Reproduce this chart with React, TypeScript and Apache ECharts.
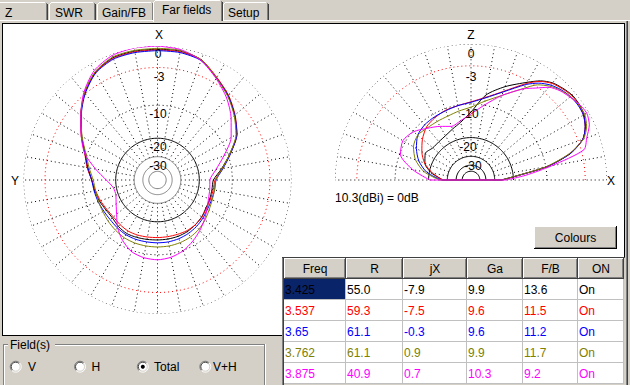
import React, { useEffect, useRef } from 'react';
import * as echarts from 'echarts';

// ---------- table data ----------
const FREQ = ['3.425', '3.537', '3.65', '3.762', '3.875'];
const RES = ['55.0', '59.3', '61.1', '61.1', '40.9'];
const JX = ['-7.9', '-7.5', '-0.3', '0.9', '0.7'];
const GA = ['9.9', '9.6', '9.6', '9.9', '10.3'];
const FB = ['13.6', '11.5', '11.2', '11.7', '9.2'];
const ON = ['On', 'On', 'On', 'On', 'On'];
const HEADERS = ['Freq', 'R', 'jX', 'Ga', 'F/B', 'ON'];
const SERIES_COLORS = ['#000000', '#ff0000', '#0000ff', '#808000', '#ff00ff'];
const TABS = ['Z', 'SWR', 'Gain/FB', 'Far fields', 'Setup'];
const FIELDS = ['V', 'H', 'Total', 'V+H'];
const RING_LABELS = ['0', '-3', '-10', '-20', '-30'];
const RING_DB = [0, -3, -10, -20, -30];
const INNER_RING_DB = [-38, -47];
const GAIN_NOTE = '10.3(dBi) = 0dB';

// ---------- azimuth patterns (dB, 0 = X, counter-clockwise towards Y) ----------
const AZ_ANGLES = [0, 10, 20, 30, 40, 50, 60, 70, 80, 90, 100, 110, 120, 130, 140, 150, 160, 170,
  180, 190, 200, 210, 220, 230, 240, 250, 260, 270, 280, 290, 300, 310, 320, 330, 340, 350];
const AZ_3425 = [-0.4, -0.4, -0.5, -1.3, -2.9, -5.0, -7.3, -9.5, -10.9, -12.2, -12.8, -13.3, -13.9, -14.1, -13.6, -13.3, -13.5, -13.7,
  -13.8, -13.8, -13.8, -13.9, -14.2, -14.5, -15.0, -15.1, -15.2, -15.0, -12.4, -9.5, -6.6, -4.9, -3.4, -2.2, -0.8, -0.4];
const AZ_3537 = [-0.5, -0.5, -0.6, -1.3, -2.9, -5.0, -7.2, -9.4, -10.8, -12.2, -13.0, -13.6, -14.2, -14.5, -14.3, -14.1, -14.2, -14.4,
  -14.5, -14.5, -14.4, -14.2, -14.2, -14.4, -14.8, -14.9, -14.8, -14.5, -12.2, -9.4, -6.5, -4.8, -3.3, -2.1, -0.8, -0.5];
const AZ_3650 = [-0.6, -0.6, -0.7, -1.4, -3.0, -5.1, -7.3, -9.5, -11.0, -12.2, -12.6, -12.9, -13.2, -13.3, -13.1, -12.9, -12.9, -13.0,
  -13.0, -13.0, -13.1, -13.3, -13.6, -14.0, -14.4, -14.5, -14.4, -14.2, -12.0, -9.3, -6.5, -4.9, -3.4, -2.2, -0.9, -0.6];
const AZ_3762 = [-0.3, -0.3, -0.4, -1.2, -2.8, -5.0, -7.4, -9.7, -11.3, -12.6, -13.0, -13.0, -12.9, -12.6, -12.3, -12.0, -11.9, -11.9,
  -11.9, -11.9, -12.0, -12.2, -12.6, -13.2, -13.9, -14.3, -14.4, -14.3, -12.2, -9.5, -6.7, -5.0, -3.5, -2.2, -0.8, -0.3];
const AZ_3875 = [0.0, 0.0, -0.2, -1.0, -2.7, -5.0, -7.2, -9.4, -13.0, -16.5, -18.8, -19.0, -17.7, -15.8, -13.2, -11.2, -9.7, -9.1,
  -8.9, -9.2, -9.9, -11.0, -12.2, -13.4, -14.6, -15.5, -15.9, -16.1, -14.0, -11.0, -7.8, -5.7, -3.8, -2.3, -0.9, -0.2];

// ---------- elevation patterns (dB, 0 = X horizon, 90 = Z) ----------
const EL_ANGLES = [0, 5, 10, 15, 20, 25, 30, 35, 40, 45, 50, 55, 60, 70, 80, 90, 100, 110, 120, 130, 140, 150, 160, 170, 180];
const EL_3425 = [-25.9, -19.0, -9.8, -4.8, -2.3, -1.3, -0.7, -0.5, -0.5, -0.8, -1.2, -2.0, -3.2, -5.4, -7.8, -11.9, -14.4, -15.8, -16.8, -17.2, -17.2, -16.2, -17.5, -21.0, -27.1];
const EL_3537 = [-25.5, -18.8, -9.7, -4.8, -2.3, -1.3, -0.8, -0.6, -0.6, -0.9, -1.3, -2.1, -3.4, -6.3, -8.3, -9.5, -10.1, -10.4, -10.9, -11.6, -13.1, -15.0, -17.4, -21.5, -27.0];
const EL_3650 = [-25.5, -18.8, -9.6, -4.7, -2.3, -1.3, -0.8, -0.7, -0.8, -1.1, -1.6, -2.4, -3.6, -6.4, -8.4, -9.6, -10.1, -10.5, -10.7, -10.9, -11.5, -13.2, -15.4, -19.0, -26.0];
const EL_3762 = [-25.5, -19.0, -9.9, -5.0, -2.2, -1.1, -0.6, -0.6, -0.8, -1.2, -1.8, -2.7, -4.3, -7.1, -9.1, -10.7, -11.4, -11.9, -12.0, -11.9, -11.5, -12.3, -14.3, -18.0, -25.0];
const EL_3875 = [-23.3, -15.5, -8.7, -2.6, -1.7, -0.7, -0.3, -0.5, -0.9, -1.3, -2.0, -3.3, -4.4, -7.1, -10.0, -12.4, -14.0, -14.9, -13.5, -12.0, -10.2, -9.4, -10.2, -14.3, -20.5];

const AZ_SETS = [AZ_3425, AZ_3537, AZ_3650, AZ_3762, AZ_3875];
const EL_SETS = [EL_3425, EL_3537, EL_3650, EL_3762, EL_3875];

const BG = '#d4d0c8';
const FONT = '"Liberation Sans", Arial, sans-serif';

// ARRL log-periodic radial scale
const arrl = (db: number) => Math.pow(0.89, -db / 2);

function lineSeries(polarIndex: number, data: any[], color: string, type: any, z: number, smooth: any = false) {
  return {
    type: 'line', coordinateSystem: 'polar', polarIndex, data,
    symbol: 'none', showSymbol: false, silent: true, clip: false, smooth,
    lineStyle: { color, width: 1, type }, z, animation: false,
  };
}

function buildSeries() {
  const s: any[] = [];
  const plots = [
    { idx: 0, from: 0, to: 360, inner: '#808080' },
    { idx: 1, from: 0, to: 180, inner: '#000000' },
  ];
  plots.forEach((p) => {
    // spokes
    for (let a = p.from; a <= (p.to === 360 ? 350 : 180); a += 10) {
      s.push(lineSeries(p.idx, [[arrl(-30), a], [1, a]], '#000', [1, 3], 1));
    }
    // rings
    RING_DB.forEach((db) => {
      const d: any[] = [];
      for (let a = p.from; a <= p.to; a += 2) d.push([arrl(db), a]);
      const color = db === -3 ? '#ff0000' : db === -30 ? p.inner : '#000';
      const type = db === -20 || db === -30 ? 'solid' : [1, 3];
      s.push(lineSeries(p.idx, d, color, type, 1));
    });
    INNER_RING_DB.forEach((db) => {
      const d: any[] = [];
      for (let a = p.from; a <= p.to; a += 4) d.push([arrl(db), a]);
      s.push(lineSeries(p.idx, d, p.inner, 'solid', 1));
    });
  });
  AZ_SETS.forEach((vals, i) => {
    const d = AZ_ANGLES.map((a, k) => [arrl(vals[k]), a]);
    d.push([arrl(vals[0]), 360]);
    s.push(lineSeries(0, d, SERIES_COLORS[i], 'solid', 3 + i, 0.25));
  });
  EL_SETS.forEach((vals, i) => {
    const d = EL_ANGLES.map((a, k) => [arrl(vals[k]), a]);
    s.push(lineSeries(1, d, SERIES_COLORS[i], 'solid', 3 + i, 0.25));
    // closing segment along the ground
    s.push(lineSeries(1, [d[d.length - 1], d[0]], SERIES_COLORS[i], 'solid', 3 + i));
  });
  return s;
}

function buildGraphics() {
  const g: any[] = [];
  const line = (x1: number, y1: number, x2: number, y2: number, stroke: string, z = 20) =>
    g.push({ type: 'line', silent: true, z, shape: { x1, y1, x2, y2 }, style: { stroke, lineWidth: 1 } });
  const rect = (x: number, y: number, w: number, h: number, fill: string, z = 20) =>
    g.push({ type: 'rect', silent: true, z, shape: { x, y, width: w, height: h }, style: { fill } });
  const text = (t: string, x: number, y: number, color = '#000', align = 'left', z = 30, size = 12) =>
    g.push({
      type: 'text', silent: true, z, x, y,
      style: {
        text: t, fill: color, fontSize: size, fontFamily: FONT,
        align, verticalAlign: 'middle', textAlign: align, textVerticalAlign: 'middle',
      },
    });

  // white drawing panel
  rect(3, 24, 621, 312, '#ffffff', 0);
  line(2, 23.5, 625, 23.5, '#000', 0);
  line(2.5, 23, 2.5, 336, '#000', 0);
  line(2, 335.5, 625, 335.5, '#000', 0);
  line(624.5, 23, 624.5, 336, '#000', 0);
  line(626.5, 21, 626.5, 385, '#808080', 0);
  line(627.5, 21, 627.5, 385, '#404040', 0);

  // tab strip
  line(0, 20.5, 630, 20.5, '#ffffff', 5);
  const tabs = [
    { x0: -4, x1: 47, tx: 5 },
    { x0: 49, x1: 95, tx: 55 },
    { x0: 97, x1: 153, tx: 102 },
    { x0: 153, x1: 222, tx: 162, sel: true },
    { x0: 223, x1: 268, tx: 228 },
  ];
  tabs.forEach((t, i) => {
    if (t.sel) return;
    line(t.x0 + 0.5, 4, t.x0 + 0.5, 20, '#ffffff', 6);
    line(t.x0 + 2, 2.5, t.x1 - 2, 2.5, '#ffffff', 6);
    rect(t.x0 + 1, 3, 1, 1, '#ffffff', 6);
    line(t.x1 - 0.5, 3, t.x1 - 0.5, 20, '#808080', 6);
    line(t.x1 + 0.5, 4, t.x1 + 0.5, 20, '#404040', 6);
    text(TABS[i], t.tx, 12.5, '#000', 'left', 7);
  });
  const st = tabs[3];
  rect(st.x0, 0, st.x1 - st.x0 + 1, 23, BG, 8);
  line(st.x0 + 0.5, 2, st.x0 + 0.5, 22, '#ffffff', 8);
  line(st.x0 + 2, 0.5, st.x1 - 2, 0.5, '#ffffff', 8);
  rect(st.x0 + 1, 1, 1, 1, '#ffffff', 8);
  line(st.x1 - 0.5, 1, st.x1 - 0.5, 21, '#808080', 8);
  line(st.x1 + 0.5, 2, st.x1 + 0.5, 21, '#404040', 8);
  text(TABS[3], st.tx, 9.5, '#000', 'left', 9);

  // polar labels (left: azimuth)
  const lx = 158;
  text('X', 159, 34.5, '#000', 'center', 10);
  text('Y', 15, 181, '#000', 'center', 10);
  const labelY = [53.5, 76.5, 113.5, 147, 165.5];
  RING_LABELS.forEach((l, i) => text(l, lx + (i === 1 ? 1 : 0), labelY[i], '#000', 'center', 10));
  // right: elevation
  text('Z', 471, 34.5, '#000', 'center', 10);
  text('X', 611, 181, '#000', 'center', 10);
  const rxs = [471, 471, 470, 468, 473];
  RING_LABELS.forEach((l, i) => text(l, rxs[i], labelY[i], '#000', 'center', 10));
  text(GAIN_NOTE, 335, 197.5, '#000', 'left', 10);

  // Colours button
  rect(534, 226, 83, 23, BG, 20);
  line(534, 226.5, 616, 226.5, '#ffffff');
  line(534.5, 226, 534.5, 248, '#ffffff');
  line(534, 248.5, 617, 248.5, '#000');
  line(616.5, 226, 616.5, 249, '#000');
  line(535, 247.5, 616, 247.5, '#808080');
  line(615.5, 227, 615.5, 248, '#808080');
  text('Colours', 575.5, 238, '#000', 'center', 21);

  // table
  const cols = [284, 346, 403, 467, 523, 578, 624];
  rect(282, 257, 343, 128, BG, 20);
  line(282.5, 257, 282.5, 385, '#808080', 21);
  line(283.5, 257, 283.5, 385, '#404040', 21);
  line(282, 257.5, 625, 257.5, '#404040', 21);
  for (let c = 0; c < 6; c++) {
    const x0 = cols[c];
    const x1 = cols[c + 1] - 1;
    rect(x0, 258, x1 - x0 + 1, 21, BG, 21);
    line(x0, 258.5, x1, 258.5, '#ffffff', 22);
    line(x0 + 0.5, 258, x0 + 0.5, 278, '#ffffff', 22);
    line(x1 - 0.5, 259, x1 - 0.5, 278, '#808080', 22);
    line(x0 + 1, 277.5, x1, 277.5, '#808080', 22);
    line(x1 + 0.5, 258, x1 + 0.5, 279, '#404040', 22);
    line(x0, 278.5, x1 + 1, 278.5, '#404040', 22);
    text(HEADERS[c], (x0 + x1 + 1) / 2, 268.5, '#000', 'center', 23);
  }
  const cells = [FREQ, RES, JX, GA, FB, ON];
  for (let r = 0; r < 5; r++) {
    const y0 = 279 + 21 * r;
    for (let c = 0; c < 6; c++) {
      const x0 = cols[c];
      const x1 = cols[c + 1] - 1;
      const fill = r === 0 && c === 0 ? '#0a246a' : '#ffffff';
      rect(x0, y0, x1 - x0, 20, fill, 21);
      line(x1 + 0.5, y0, x1 + 0.5, y0 + 21, '#c0c0c0', 22);
      line(x0, y0 + 20.5, x1 + 1, y0 + 20.5, '#c0c0c0', 22);
      text(cells[c][r], x0 + 1, y0 + 10.5, SERIES_COLORS[r], 'left', 23);
    }
  }

  // Field(s) group box
  line(3, 344.5, 265, 344.5, '#808080', 20);
  line(4, 345.5, 264, 345.5, '#ffffff', 20);
  line(3.5, 344, 3.5, 385, '#808080', 20);
  line(4.5, 345, 4.5, 385, '#ffffff', 20);
  line(264.5, 344, 264.5, 385, '#808080', 20);
  line(265.5, 344, 265.5, 385, '#ffffff', 20);
  rect(8, 338, 47, 12, BG, 21);
  text('Field(s)', 10, 344.5, '#000', 'left', 22);
  const rcx = [15.7, 80, 142.8, 205.3];
  const ltx = [28, 91.5, 154, 213];
  FIELDS.forEach((f, i) => {
    const cx = rcx[i];
    const cy = 366.7;
    g.push({ type: 'circle', silent: true, z: 21, shape: { cx, cy, r: 5 }, style: { fill: '#ffffff' } });
    g.push({ type: 'arc', silent: true, z: 22, shape: { cx, cy, r: 5.5, startAngle: Math.PI * 0.75, endAngle: Math.PI * 1.75, clockwise: true }, style: { stroke: '#808080', fill: 'none', lineWidth: 1 } });
    g.push({ type: 'arc', silent: true, z: 22, shape: { cx, cy, r: 5.5, startAngle: -Math.PI * 0.25, endAngle: Math.PI * 0.75, clockwise: true }, style: { stroke: '#ffffff', fill: 'none', lineWidth: 1 } });
    g.push({ type: 'arc', silent: true, z: 22, shape: { cx, cy, r: 4.5, startAngle: Math.PI * 0.75, endAngle: Math.PI * 1.75, clockwise: true }, style: { stroke: '#404040', fill: 'none', lineWidth: 1 } });
    g.push({ type: 'arc', silent: true, z: 22, shape: { cx, cy, r: 4.5, startAngle: -Math.PI * 0.25, endAngle: Math.PI * 0.75, clockwise: true }, style: { stroke: BG, fill: 'none', lineWidth: 1 } });
    if (f === 'Total') {
      g.push({ type: 'circle', silent: true, z: 23, shape: { cx, cy, r: 2 }, style: { fill: '#000' } });
    }
    text(f, ltx[i], cy, '#000', 'left', 22);
  });
  return g;
}

function buildOption() {
  return {
    animation: false,
    backgroundColor: BG,
    polar: [
      { center: [157.5, 180], radius: 134 },
      { center: [471, 180], radius: 136 },
    ],
    angleAxis: [
      { polarIndex: 0, type: 'value', min: 0, max: 360, startAngle: 90, clockwise: false, show: false },
      { polarIndex: 1, type: 'value', min: 0, max: 360, startAngle: 0, clockwise: false, show: false },
    ],
    radiusAxis: [
      { polarIndex: 0, type: 'value', min: 0, max: 1, show: false },
      { polarIndex: 1, type: 'value', min: 0, max: 1, show: false },
    ],
    series: buildSeries(),
    graphic: { elements: buildGraphics() },
  };
}

export default function App() {
  const ref = useRef<HTMLDivElement>(null);
  useEffect(() => {
    if (!ref.current) return;
    const chart = echarts.init(ref.current, null, { renderer: 'svg' });
    chart.setOption(buildOption() as any);
    return () => chart.dispose();
  }, []);
  return (
    <div
      ref={ref}
      style={{ position: 'fixed', left: 0, top: 0, width: 630, height: 385 }}
    />
  );
}
